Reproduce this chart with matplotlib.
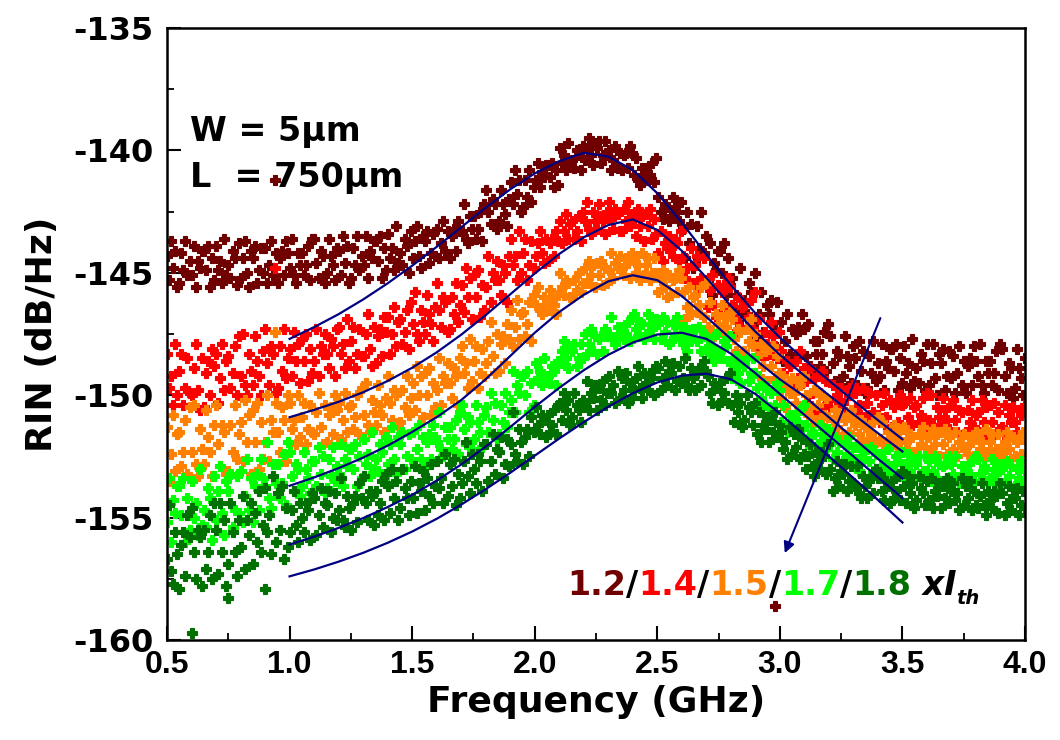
import numpy as np
import matplotlib
matplotlib.use("Agg")
import matplotlib.pyplot as plt
from matplotlib.ticker import MultipleLocator
from matplotlib.transforms import offset_copy

plt.rcParams['axes.unicode_minus'] = False

# Bias currents (multiples of threshold) and their colours
currents = ["1.2", "1.4", "1.5", "1.7", "1.8"]
colors = ["#700000", "#ff0000", "#ff8000", "#00ff00", "#007000"]
fit_color = "#000080"

# Measured RIN traces (dB/Hz), equally spaced sweep from 0.5 to 4.0 GHz
# (one line per 0.1 GHz span)
rin_12 = [
    -144.3, -145.3, -143.7, -144.8, -144.1, -145.6, -145.4, -144.2, -144.9, -143.7, -145.1, -144.5,
    -145.1, -143.9, -145.6, -144.5, -144.8, -144.1, -144.1, -144.9, -143.9, -145.6, -144.4, -145.3,
    -143.9, -144.9, -144.5, -145.4, -143.6, -145.1, -144.7, -145.2, -144.1, -144.4, -145.5, -143.8,
    -145.2, -144.4, -143.7, -145.0, -145.6, -144.1, -144.4, -143.9, -145.4, -144.9, -144.0, -145.0,
    -144.0, -145.4, -144.7, -143.7, -145.1, -144.2, -145.4, -144.4, -144.1, -145.1, -143.7, -144.2,
    -144.8, -143.6, -145.1, -145.4, -144.2, -144.7, -144.2, -145.1, -144.7, -143.9, -145.3, -143.6,
    -143.6, -144.6, -145.2, -144.1, -144.3, -145.4, -145.0, -143.6, -144.3, -144.7, -145.3, -144.0,
    -144.1, -145.1, -143.5, -144.6, -143.9, -145.4, -145.2, -144.0, -144.7, -143.5, -144.9, -144.3,
    -144.7, -143.5, -145.2, -144.1, -144.4, -143.7, -143.7, -144.5, -143.5, -145.2, -144.0, -144.9,
    -143.4, -144.4, -144.0, -144.9, -143.1, -144.6, -144.2, -144.7, -143.6, -143.9, -145.0, -143.3,
    -144.4, -143.7, -143.1, -144.3, -144.8, -143.5, -143.7, -143.3, -144.6, -144.2, -143.4, -144.3,
    -143.2, -144.4, -143.8, -142.9, -144.1, -143.3, -144.4, -143.5, -143.2, -144.1, -142.9, -143.3,
    -143.3, -142.2, -143.6, -143.8, -142.7, -143.2, -142.7, -143.6, -143.2, -142.5, -143.7, -142.2,
    -141.6, -142.5, -143.0, -142.0, -142.2, -143.2, -142.9, -141.6, -142.2, -142.6, -143.1, -142.0,
    -141.3, -142.2, -140.8, -141.8, -141.2, -142.5, -142.3, -141.2, -141.9, -140.8, -142.1, -141.5,
    -141.2, -140.5, -141.5, -140.9, -141.1, -140.6, -140.6, -141.1, -140.5, -141.5, -140.8, -141.4,
    -139.9, -140.5, -140.2, -140.8, -139.7, -140.6, -140.4, -140.7, -140.0, -140.2, -140.8, -139.8,
    -140.4, -139.9, -139.5, -140.2, -140.6, -139.7, -139.9, -139.6, -140.5, -140.2, -139.6, -140.2,
    -140.0, -140.8, -140.4, -139.8, -140.7, -140.1, -140.8, -140.2, -140.1, -140.7, -139.8, -140.1,
    -141.0, -140.3, -141.2, -141.4, -140.7, -141.0, -140.7, -141.2, -141.0, -140.5, -141.3, -140.3,
    -141.9, -142.5, -142.8, -142.2, -142.3, -142.9, -142.7, -141.9, -142.3, -142.5, -142.9, -142.1,
    -143.2, -144.4, -142.5, -143.8, -143.0, -144.8, -144.6, -143.1, -144.0, -142.5, -144.2, -143.5,
    -145.3, -143.8, -145.9, -144.6, -144.9, -144.1, -144.1, -145.0, -143.8, -145.9, -144.4, -145.5,
    -145.2, -146.4, -145.9, -147.0, -144.8, -146.6, -146.1, -146.7, -145.4, -145.8, -147.1, -145.0,
    -147.6, -146.7, -145.8, -147.4, -148.1, -146.3, -146.7, -146.1, -147.9, -147.3, -146.2, -147.4,
    -147.0, -148.6, -147.8, -146.7, -148.3, -147.3, -148.6, -147.5, -147.2, -148.3, -146.7, -147.3,
    -148.4, -147.1, -148.8, -149.1, -147.8, -148.3, -147.8, -148.8, -148.3, -147.4, -149.0, -147.1,
    -147.6, -148.7, -149.4, -148.2, -148.4, -149.6, -149.2, -147.6, -148.4, -148.8, -149.5, -148.0,
    -148.5, -149.6, -147.8, -149.0, -148.2, -149.9, -149.7, -148.4, -149.1, -147.8, -149.4, -148.7,
    -149.2, -147.9, -149.8, -148.6, -148.9, -148.1, -148.1, -149.0, -147.9, -149.8, -148.5, -149.5,
    -148.0, -149.1, -148.7, -149.7, -147.7, -149.4, -148.9, -149.5, -148.3, -148.6, -149.8, -147.9,
    -149.6, -148.7, -147.9, -149.3, -150.0, -148.3, -148.7, -148.1, -149.8, -149.2, -148.2, -149.3,
    -148.4, -149.9, -149.1, -148.0, -149.6, -148.6, -149.9, -148.8, -148.5, -149.6, -148.0, -148.6,
    -149.2, -147.9, -149.6, -149.9, -148.6, -149.1, -148.6, -149.6, -149.1, -148.2, -149.8, -147.9,
    -148.1, -149.2, -149.9, -148.7, -148.9, -150.1, -149.7, -148.1, -148.9, -149.3, -150.0, -148.5,
]
rin_14 = [
    -148.3, -149.7, -149.2, -150.4, -147.9, -150.0, -149.0, -148.3, -150.4, -149.7, -148.5, -149.9,
    -150.0, -148.9, -147.9, -149.8, -150.6, -148.5, -150.5, -149.1, -148.6, -150.0, -148.1, -148.8,
    -148.3, -150.3, -149.3, -147.9, -149.8, -148.6, -148.4, -149.7, -149.1, -148.0, -150.0, -147.6,
    -149.2, -147.5, -149.6, -150.0, -148.3, -149.0, -149.6, -147.6, -148.6, -149.2, -150.0, -148.2,
    -147.3, -148.7, -149.6, -148.0, -148.3, -149.9, -149.7, -148.0, -149.0, -147.3, -149.3, -148.5,
    -148.1, -149.2, -147.4, -148.6, -147.9, -149.5, -147.7, -148.6, -147.5, -149.4, -148.1, -149.1,
    -148.6, -147.3, -149.2, -148.0, -148.3, -147.5, -148.3, -148.9, -147.7, -148.0, -149.2, -147.3,
    -147.2, -148.3, -147.9, -148.9, -146.9, -148.6, -147.8, -147.2, -148.9, -148.3, -147.3, -148.4,
    -148.4, -147.5, -146.7, -148.1, -148.8, -147.2, -148.7, -147.6, -147.3, -148.4, -146.8, -147.4,
    -146.8, -148.3, -147.5, -146.4, -148.0, -147.0, -146.9, -147.9, -147.4, -146.5, -148.1, -146.2,
    -147.1, -145.8, -147.5, -147.8, -146.5, -147.0, -147.5, -145.9, -146.7, -147.1, -147.8, -146.4,
    -145.4, -146.5, -147.2, -146.0, -146.2, -147.4, -147.3, -146.0, -146.7, -145.4, -147.0, -146.3,
    -145.5, -146.6, -144.8, -146.0, -145.2, -146.9, -145.1, -146.0, -144.9, -146.8, -145.5, -146.5,
    -145.6, -144.3, -146.2, -145.0, -145.3, -144.5, -145.3, -145.9, -144.7, -145.0, -146.2, -144.3,
    -143.6, -144.7, -144.3, -145.3, -143.3, -145.0, -144.2, -143.6, -145.3, -144.7, -143.7, -144.8,
    -144.3, -143.8, -143.3, -144.2, -144.6, -143.6, -144.5, -143.8, -143.6, -144.3, -143.3, -143.7,
    -142.9, -143.8, -143.3, -142.6, -143.6, -143.0, -142.9, -143.6, -143.3, -142.7, -143.7, -142.5,
    -142.9, -142.1, -143.2, -143.4, -142.5, -142.9, -143.2, -142.2, -142.7, -142.9, -143.4, -142.5,
    -142.1, -142.8, -143.2, -142.4, -142.6, -143.3, -143.3, -142.4, -142.9, -142.1, -143.1, -142.6,
    -142.8, -143.5, -142.4, -143.1, -142.7, -143.7, -142.6, -143.1, -142.4, -143.6, -142.8, -143.4,
    -144.2, -143.3, -144.5, -143.8, -144.0, -143.5, -144.0, -144.3, -143.6, -143.8, -144.5, -143.3,
    -144.3, -145.2, -144.8, -145.6, -144.0, -145.4, -144.7, -144.3, -145.6, -145.2, -144.4, -145.3,
    -146.4, -145.7, -145.1, -146.3, -146.8, -145.5, -146.7, -145.8, -145.5, -146.4, -145.2, -145.6,
    -146.3, -147.5, -146.9, -146.0, -147.2, -146.4, -146.3, -147.2, -146.8, -146.1, -147.3, -145.8,
    -148.0, -146.9, -148.3, -148.5, -147.4, -147.9, -148.3, -147.0, -147.6, -148.0, -148.5, -147.4,
    -148.2, -149.1, -149.6, -148.6, -148.8, -149.8, -149.7, -148.6, -149.3, -148.2, -149.5, -148.9,
    -149.4, -150.3, -148.9, -149.9, -149.3, -150.6, -149.2, -149.9, -149.0, -150.5, -149.4, -150.2,
    -150.5, -149.6, -150.9, -150.0, -150.3, -149.7, -150.3, -150.7, -149.8, -150.0, -150.9, -149.6,
    -149.9, -150.7, -150.4, -151.1, -149.7, -150.9, -150.3, -149.9, -151.1, -150.7, -150.0, -150.8,
    -151.1, -150.4, -149.9, -150.9, -151.4, -150.2, -151.3, -150.5, -150.3, -151.1, -150.0, -150.4,
    -150.3, -151.4, -150.9, -150.1, -151.2, -150.5, -150.4, -151.1, -150.8, -150.1, -151.3, -149.9,
    -151.0, -150.0, -151.2, -151.4, -150.5, -150.9, -151.2, -150.1, -150.6, -151.0, -151.4, -150.4,
    -150.2, -151.0, -151.5, -150.6, -150.7, -151.6, -151.5, -150.6, -151.1, -150.2, -151.3, -150.8,
    -150.7, -151.5, -150.2, -151.1, -150.5, -151.7, -150.4, -151.1, -150.3, -151.6, -150.7, -151.4,
    -151.3, -150.4, -151.7, -150.8, -151.1, -150.5, -151.1, -151.5, -150.6, -150.8, -151.7, -150.4,
]
rin_15 = [
    -151.3, -153.5, -152.4, -150.8, -153.1, -151.6, -151.5, -152.9, -152.3, -151.0, -153.2, -150.5,
    -152.3, -150.4, -152.8, -153.3, -151.4, -152.2, -152.8, -150.6, -151.7, -152.3, -153.3, -151.2,
    -150.4, -152.0, -152.9, -151.2, -151.5, -153.2, -153.1, -151.2, -152.3, -150.4, -152.6, -151.6,
    -151.1, -152.7, -150.2, -151.9, -150.8, -153.2, -150.6, -151.9, -150.3, -153.0, -151.1, -152.6,
    -151.9, -150.0, -152.7, -151.0, -151.5, -150.3, -151.5, -152.3, -150.5, -151.0, -152.7, -150.0,
    -150.3, -151.4, -151.0, -152.0, -150.0, -151.7, -150.9, -150.3, -152.0, -151.4, -150.4, -151.5,
    -151.6, -150.7, -149.9, -151.3, -152.0, -150.4, -151.9, -150.8, -150.5, -151.6, -150.0, -150.6,
    -150.3, -151.8, -151.0, -149.9, -151.5, -150.5, -150.4, -151.4, -150.9, -150.0, -151.6, -149.7,
    -150.8, -149.5, -151.2, -151.5, -150.2, -150.7, -151.2, -149.6, -150.4, -150.8, -151.5, -150.1,
    -149.2, -150.3, -151.0, -149.8, -150.0, -151.2, -151.1, -149.8, -150.5, -149.2, -150.8, -150.1,
    -149.5, -150.6, -148.8, -150.0, -149.2, -150.9, -149.1, -150.0, -148.9, -150.8, -149.5, -150.5,
    -149.8, -148.5, -150.4, -149.2, -149.5, -148.7, -149.5, -150.1, -148.9, -149.2, -150.4, -148.5,
    -148.0, -149.1, -148.7, -149.7, -147.7, -149.4, -148.6, -148.0, -149.7, -149.1, -148.1, -149.2,
    -148.7, -147.8, -147.0, -148.4, -149.1, -147.5, -149.0, -147.9, -147.6, -148.7, -147.1, -147.7,
    -146.5, -148.0, -147.2, -146.1, -147.7, -146.7, -146.6, -147.6, -147.1, -146.2, -147.8, -145.9,
    -146.3, -145.6, -146.5, -146.7, -146.0, -146.3, -146.5, -145.7, -146.1, -146.3, -146.7, -145.9,
    -145.0, -145.6, -145.9, -145.3, -145.4, -146.0, -146.0, -145.3, -145.7, -145.0, -145.8, -145.4,
    -144.8, -145.4, -144.5, -145.1, -144.7, -145.6, -144.6, -145.1, -144.5, -145.5, -144.8, -145.4,
    -144.9, -144.2, -145.2, -144.6, -144.8, -144.3, -144.8, -145.1, -144.4, -144.6, -145.2, -144.2,
    -144.4, -145.0, -144.7, -145.3, -144.2, -145.1, -144.7, -144.4, -145.3, -145.0, -144.4, -145.0,
    -145.8, -145.3, -144.9, -145.6, -146.0, -145.1, -145.9, -145.3, -145.2, -145.8, -144.9, -145.2,
    -145.8, -146.9, -146.4, -145.6, -146.7, -146.0, -145.9, -146.6, -146.3, -145.6, -146.8, -145.4,
    -147.2, -146.2, -147.4, -147.6, -146.7, -147.1, -147.4, -146.3, -146.8, -147.2, -147.6, -146.6,
    -146.9, -147.7, -148.2, -147.3, -147.4, -148.3, -148.2, -147.3, -147.8, -146.9, -148.0, -147.5,
    -148.4, -149.2, -147.9, -148.8, -148.2, -149.4, -148.1, -148.8, -148.0, -149.3, -148.4, -149.1,
    -150.1, -149.2, -150.5, -149.6, -149.9, -149.3, -149.9, -150.3, -149.4, -149.6, -150.5, -149.2,
    -150.0, -150.8, -150.5, -151.2, -149.8, -151.0, -150.4, -150.0, -151.2, -150.8, -150.1, -150.9,
    -151.5, -151.0, -150.6, -151.3, -151.7, -150.8, -151.6, -151.0, -150.9, -151.5, -150.6, -150.9,
    -151.2, -152.0, -151.6, -151.0, -151.9, -151.3, -151.3, -151.8, -151.6, -151.1, -151.9, -150.9,
    -151.8, -151.1, -152.0, -152.2, -151.5, -151.8, -152.0, -151.2, -151.6, -151.8, -152.2, -151.4,
    -151.3, -151.9, -152.2, -151.6, -151.7, -152.3, -152.3, -151.6, -152.0, -151.3, -152.1, -151.7,
    -151.7, -152.3, -151.4, -152.0, -151.6, -152.5, -151.5, -152.0, -151.4, -152.4, -151.7, -152.3,
    -152.2, -151.5, -152.5, -151.9, -152.1, -151.6, -152.1, -152.4, -151.7, -151.9, -152.5, -151.5,
    -151.6, -152.2, -151.9, -152.5, -151.4, -152.3, -151.9, -151.6, -152.5, -152.2, -151.6, -152.2,
    -152.4, -151.9, -151.5, -152.2, -152.6, -151.7, -152.5, -151.9, -151.8, -152.4, -151.5, -151.8,
]
rin_17 = [
    -155.2, -153.4, -156.0, -154.3, -154.8, -153.7, -153.7, -154.9, -153.4, -156.0, -154.2, -155.5,
    -153.5, -155.0, -154.4, -155.7, -153.0, -155.3, -154.7, -155.4, -153.8, -154.2, -155.9, -153.3,
    -155.1, -153.9, -152.9, -154.8, -155.7, -153.5, -153.9, -153.2, -155.4, -154.7, -153.3, -154.8,
    -153.1, -155.2, -154.1, -152.6, -154.7, -153.4, -155.2, -153.7, -153.2, -154.7, -152.6, -153.4,
    -153.7, -151.9, -154.2, -154.6, -152.8, -153.6, -152.8, -154.2, -153.6, -152.4, -154.5, -151.9,
    -152.3, -153.3, -153.9, -152.8, -153.0, -154.1, -153.7, -152.3, -153.0, -153.4, -154.0, -152.7,
    -152.7, -153.7, -152.1, -153.2, -152.5, -154.0, -153.8, -152.6, -153.3, -152.1, -153.5, -152.9,
    -153.2, -152.0, -153.7, -152.6, -152.9, -152.2, -152.2, -153.0, -152.0, -153.7, -152.5, -153.4,
    -151.8, -152.8, -152.4, -153.3, -151.5, -153.0, -152.6, -153.1, -152.0, -152.3, -153.4, -151.7,
    -152.8, -152.0, -151.3, -152.6, -153.2, -151.7, -152.0, -151.5, -153.0, -152.5, -151.6, -152.6,
    -151.5, -152.9, -152.2, -151.2, -152.6, -151.7, -152.9, -151.9, -151.6, -152.6, -151.2, -151.7,
    -151.9, -150.7, -152.2, -152.5, -151.3, -151.8, -151.3, -152.2, -151.8, -151.0, -152.4, -150.7,
    -150.4, -151.4, -152.0, -150.9, -151.1, -152.2, -151.8, -150.4, -151.1, -151.5, -152.1, -150.8,
    -150.5, -151.5, -149.9, -151.0, -150.3, -151.8, -151.6, -150.4, -151.1, -149.9, -151.3, -150.7,
    -150.2, -149.0, -150.7, -149.6, -149.9, -149.2, -149.2, -150.0, -149.0, -150.7, -149.5, -150.4,
    -148.7, -149.3, -149.0, -149.6, -148.5, -149.4, -149.2, -149.5, -148.8, -149.0, -149.6, -148.6,
    -148.7, -148.2, -147.8, -148.5, -148.9, -148.0, -148.2, -147.9, -148.8, -148.5, -147.9, -148.5,
    -147.5, -148.3, -147.9, -147.3, -148.2, -147.6, -148.3, -147.7, -147.6, -148.2, -147.3, -147.6,
    -147.5, -146.8, -147.7, -147.9, -147.2, -147.5, -147.2, -147.7, -147.5, -147.0, -147.8, -146.8,
    -146.7, -147.3, -147.6, -147.0, -147.1, -147.7, -147.5, -146.7, -147.1, -147.3, -147.7, -146.9,
    -147.1, -147.7, -146.8, -147.4, -147.0, -147.9, -147.8, -147.1, -147.5, -146.8, -147.6, -147.2,
    -147.9, -147.2, -148.2, -147.6, -147.8, -147.3, -147.3, -147.8, -147.2, -148.2, -147.5, -148.1,
    -147.7, -148.3, -148.0, -148.6, -147.5, -148.4, -148.2, -148.5, -147.8, -148.0, -148.6, -147.6,
    -149.3, -148.8, -148.4, -149.1, -149.5, -148.6, -148.8, -148.5, -149.4, -149.1, -148.5, -149.1,
    -149.7, -150.5, -150.1, -149.5, -150.4, -149.8, -150.5, -149.9, -149.8, -150.4, -149.5, -149.8,
    -151.1, -150.4, -151.3, -151.5, -150.8, -151.1, -150.8, -151.3, -151.1, -150.6, -151.4, -150.4,
    -151.2, -151.8, -152.1, -151.5, -151.6, -152.2, -152.0, -151.2, -151.6, -151.8, -152.2, -151.4,
    -152.0, -152.6, -151.7, -152.3, -151.9, -152.8, -152.7, -152.0, -152.4, -151.7, -152.5, -152.1,
    -152.8, -152.1, -153.1, -152.5, -152.7, -152.2, -152.2, -152.7, -152.1, -153.1, -152.4, -153.0,
    -152.4, -153.0, -152.7, -153.3, -152.2, -153.1, -152.9, -153.2, -152.5, -152.7, -153.3, -152.3,
    -153.3, -152.8, -152.4, -153.1, -153.5, -152.6, -152.8, -152.5, -153.4, -153.1, -152.5, -153.1,
    -152.7, -153.5, -153.1, -152.5, -153.4, -152.8, -153.5, -152.9, -152.8, -153.4, -152.5, -152.8,
    -153.2, -152.5, -153.4, -153.6, -152.9, -153.2, -152.9, -153.4, -153.2, -152.7, -153.5, -152.5,
    -152.6, -153.2, -153.5, -152.9, -153.0, -153.6, -153.4, -152.6, -153.0, -153.2, -153.6, -152.8,
    -153.0, -153.6, -152.7, -153.3, -152.9, -153.8, -153.7, -153.0, -153.4, -152.7, -153.5, -153.1,
]
rin_18 = [
    -156.7, -154.5, -157.2, -157.7, -155.6, -156.5, -157.9, -156.1, -155.6, -157.4, -154.9, -155.8,
    -154.6, -156.4, -157.5, -155.5, -155.8, -157.8, -155.5, -157.1, -156.4, -154.9, -157.5, -154.4,
    -155.5, -157.3, -154.4, -156.4, -155.1, -157.8, -156.9, -154.4, -155.6, -156.4, -157.4, -155.1,
    -156.2, -154.1, -157.1, -155.1, -155.7, -154.4, -156.9, -154.8, -156.0, -153.9, -156.4, -155.3,
    -153.8, -155.6, -154.9, -156.5, -153.3, -156.0, -154.0, -155.5, -153.7, -156.7, -154.6, -156.2,
    -155.6, -154.7, -153.9, -155.3, -156.0, -154.4, -155.0, -155.6, -154.4, -154.7, -155.9, -154.0,
    -154.2, -155.7, -154.9, -153.8, -155.4, -154.4, -154.5, -153.9, -155.6, -155.0, -154.0, -155.1,
    -154.7, -153.4, -155.1, -155.4, -154.1, -154.6, -155.5, -154.4, -154.1, -155.2, -153.6, -154.2,
    -153.3, -154.4, -155.1, -153.9, -154.1, -155.3, -153.9, -154.9, -154.4, -153.5, -155.1, -153.2,
    -153.7, -154.8, -153.0, -154.2, -153.5, -155.1, -154.6, -153.0, -153.8, -154.2, -154.9, -153.5,
    -154.2, -152.9, -154.8, -153.6, -153.9, -153.1, -154.7, -153.4, -154.1, -152.8, -154.4, -153.7,
    -152.7, -153.8, -153.4, -154.4, -152.4, -154.1, -152.8, -153.7, -152.6, -154.5, -153.2, -154.2,
    -153.6, -152.7, -151.9, -153.3, -154.0, -152.4, -153.0, -153.6, -152.4, -152.7, -153.9, -152.0,
    -152.0, -153.5, -152.7, -151.6, -153.2, -152.2, -152.3, -151.7, -153.4, -152.8, -151.8, -152.9,
    -152.0, -150.7, -152.4, -152.7, -151.4, -151.9, -152.8, -151.7, -151.4, -152.5, -150.9, -151.5,
    -150.5, -151.2, -151.6, -150.8, -151.0, -151.7, -150.8, -151.5, -151.2, -150.6, -151.6, -150.4,
    -150.3, -151.0, -149.9, -150.6, -150.2, -151.2, -150.9, -149.9, -150.4, -150.6, -151.1, -150.2,
    -150.3, -149.4, -150.6, -149.9, -150.1, -149.6, -150.6, -149.7, -150.2, -149.4, -150.4, -149.9,
    -149.2, -149.9, -149.6, -150.3, -149.0, -150.1, -149.3, -149.8, -149.1, -150.3, -149.5, -150.1,
    -149.8, -149.3, -148.8, -149.7, -150.1, -149.1, -149.5, -149.8, -149.1, -149.3, -150.0, -148.8,
    -148.9, -149.8, -149.3, -148.6, -149.6, -149.0, -149.1, -148.7, -149.8, -149.4, -148.8, -149.5,
    -149.3, -148.5, -149.6, -149.8, -148.9, -149.3, -149.8, -149.1, -148.9, -149.6, -148.6, -149.0,
    -149.2, -149.9, -150.3, -149.5, -149.7, -150.4, -149.5, -150.2, -149.9, -149.3, -150.3, -149.1,
    -150.4, -151.1, -150.0, -150.7, -150.3, -151.3, -151.0, -150.0, -150.5, -150.7, -151.2, -150.3,
    -151.6, -150.7, -151.9, -151.2, -151.4, -150.9, -151.9, -151.0, -151.5, -150.7, -151.7, -151.2,
    -151.5, -152.2, -151.9, -152.6, -151.3, -152.4, -151.6, -152.1, -151.4, -152.6, -151.8, -152.4,
    -153.0, -152.5, -152.0, -152.9, -153.3, -152.3, -152.7, -153.0, -152.3, -152.5, -153.2, -152.0,
    -153.0, -153.9, -153.4, -152.7, -153.7, -153.1, -153.2, -152.8, -153.9, -153.5, -152.9, -153.6,
    -153.7, -152.9, -154.0, -154.2, -153.3, -153.7, -154.2, -153.5, -153.3, -154.0, -153.0, -153.4,
    -153.2, -153.9, -154.3, -153.5, -153.7, -154.4, -153.5, -154.2, -153.9, -153.3, -154.3, -153.1,
    -153.7, -154.4, -153.3, -154.0, -153.6, -154.6, -154.3, -153.3, -153.8, -154.0, -154.5, -153.5,
    -154.3, -153.4, -154.6, -153.9, -154.1, -153.6, -154.6, -153.7, -154.2, -153.4, -154.4, -153.9,
    -153.6, -154.3, -154.0, -154.7, -153.4, -154.5, -153.7, -154.2, -153.5, -154.7, -153.9, -154.5,
    -154.6, -154.1, -153.6, -154.5, -154.9, -153.9, -154.3, -154.6, -153.9, -154.1, -154.8, -153.6,
    -154.0, -154.9, -154.4, -153.7, -154.7, -154.1, -154.2, -153.8, -154.9, -154.5, -153.9, -154.6,
]

# Isolated readings outside the main clouds: frequency, RIN, trace index
stray_freq = [0.94, 2.98, 0.94, 0.94, 0.60, 0.75, 0.90]
stray_rin = [-141.2, -158.6, -144.8, -147.4, -159.7, -158.3, -157.9]
stray_trace = [0, 0, 1, 2, 4, 4, 4]

# Fitted RIN curves (dB/Hz) between 1.0 and 3.5 GHz
fit_freq = [1.0, 1.1, 1.2, 1.3, 1.4, 1.5, 1.6, 1.7, 1.8, 1.9, 2.0, 2.1, 2.2,
            2.3, 2.4, 2.5, 2.6, 2.7, 2.8, 2.9, 3.0, 3.1, 3.2, 3.3, 3.4, 3.5]
fit_12 = [-147.70, -147.22, -146.69, -146.09, -145.43, -144.71, -143.94, -143.14, -142.34,
          -141.59, -140.94, -140.44, -140.10, -140.25, -140.80, -141.75, -142.95, -144.25,
          -145.50, -146.65, -147.65, -148.55, -149.40, -150.22, -151.02, -151.80]
fit_14 = [-150.90, -150.60, -150.27, -149.88, -149.42, -148.88, -148.25, -147.53, -146.73,
          -145.88, -145.03, -144.23, -143.55, -143.05, -142.82, -143.25, -144.10, -145.20,
          -146.35, -147.40, -148.35, -149.20, -150.00, -150.78, -151.55, -152.30]
fit_15 = [-153.70, -153.36, -152.98, -152.55, -152.06, -151.50, -150.90, -150.20, -149.35,
          -148.40, -147.45, -146.60, -145.90, -145.35, -145.10, -145.30, -145.95, -146.80,
          -147.70, -148.55, -149.35, -150.05, -150.90, -151.75, -152.60, -153.40]
fit_17 = [-156.10, -155.78, -155.42, -155.02, -154.57, -154.07, -153.49, -152.83, -152.10,
          -151.30, -150.48, -149.70, -148.98, -148.35, -147.85, -147.52, -147.45, -147.70,
          -148.30, -149.10, -149.95, -150.80, -151.65, -152.50, -153.35, -154.20]
fit_18 = [-157.40, -157.12, -156.80, -156.44, -156.03, -155.57, -155.05, -154.47, -153.84,
          -153.17, -152.47, -151.77, -151.10, -150.47, -149.92, -149.48, -149.20, -149.12,
          -149.35, -149.95, -150.75, -151.62, -152.50, -153.38, -154.28, -155.20]

x_ticks = [0.5, 1.0, 1.5, 2.0, 2.5, 3.0, 3.5, 4.0]
x_tick_labels = ["0.5", "1.0", "1.5", "2.0", "2.5", "3.0", "3.5", "4.0"]
y_ticks = [-160, -155, -150, -145, -140, -135]
y_tick_labels = ["-160", "-155", "-150", "-145", "-140", "-135"]

measured = [rin_12, rin_14, rin_15, rin_17, rin_18]
fits = [fit_12, fit_14, fit_15, fit_17, fit_18]

fig = plt.figure(figsize=(10.6, 7.4), dpi=100)
ax = fig.add_axes([167 / 1060, 1 - 640 / 740, 858 / 1060, 612 / 740])

for vals, c in zip(measured, colors):
    freq = np.linspace(0.5, 4.0, len(vals))
    ax.plot(freq, vals, ls="none", marker="P", ms=6.5, mfc=c, mec=c, mew=0.8, zorder=2)

for f, r, i in zip(stray_freq, stray_rin, stray_trace):
    ax.plot([f], [r], ls="none", marker="P", ms=6.5, mfc=colors[i], mec=colors[i],
            mew=0.8, zorder=2)

for fit in fits:
    ax.plot(fit_freq, fit, color=fit_color, lw=1.6, zorder=4, solid_joinstyle="round")

# Arrow showing increasing bias current
ax.annotate("", xy=(3.02, -156.45), xytext=(3.41, -146.85),
            arrowprops=dict(arrowstyle="-|>", color=fit_color, lw=1.5,
                            mutation_scale=16, shrinkA=0, shrinkB=0), zorder=5)

ax.set_xlim(0.5, 4.0)
ax.set_ylim(-160, -135)
ax.set_xticks(x_ticks, labels=x_tick_labels)
ax.set_yticks(y_ticks, labels=y_tick_labels)
ax.xaxis.set_minor_locator(MultipleLocator(0.25))
ax.yaxis.set_minor_locator(MultipleLocator(2.5))
ax.tick_params(which="both", direction="in", top=False, right=False)
ax.tick_params(which="major", length=10, width=1.5)
ax.tick_params(which="minor", length=5, width=1.3)
ax.tick_params(axis="x", pad=7)
ax.tick_params(axis="y", pad=10)
for lab in ax.get_xticklabels():
    lab.set_fontfamily("Liberation Sans")
    lab.set_fontweight("bold")
    lab.set_fontsize(23)
for lab in ax.get_yticklabels():
    lab.set_fontfamily("DejaVu Sans")
    lab.set_fontweight("bold")
    lab.set_fontsize(23)
for sp in ax.spines.values():
    sp.set_linewidth(1.8)

ax.set_xlabel("Frequency (GHz)", fontfamily="DejaVu Sans", fontweight="bold",
              fontsize=26, labelpad=4)
ax.set_ylabel("RIN (dB/Hz)", fontfamily="DejaVu Sans", fontweight="bold",
              fontsize=26, labelpad=10)

ax.text(0.594, -139.6, "W = 5\u03bcm", fontfamily="DejaVu Sans", fontweight="bold",
        fontsize=24, va="baseline", ha="left")
ax.text(0.594, -141.5, "L  = 750\u03bcm", fontfamily="DejaVu Sans", fontweight="bold",
        fontsize=24, va="baseline", ha="left")

# Coloured current legend: 1.2/1.4/1.5/1.7/1.8 xI_th
pieces = []
for k, (cur, c) in enumerate(zip(currents, colors)):
    pieces.append((cur, c, "normal", 24, 0))
    if k < len(currents) - 1:
        pieces.append(("/", "black", "normal", 24, 0))
pieces.append((" xI", "black", "italic", 24, 0))
pieces.append(("th", "black", "italic", 14, -9))

fig.canvas.draw()
renderer = fig.canvas.get_renderer()
x_off = 0.0
for s, c, style, size, dy in pieces:
    tr = offset_copy(ax.transData, fig=fig, x=x_off, y=dy, units="dots")
    t = ax.text(2.133, -158.15, s, color=c, fontfamily="DejaVu Sans", fontweight="bold",
                fontstyle=style, fontsize=size, va="baseline", ha="left",
                transform=tr, zorder=6)
    x_off += t.get_window_extent(renderer).width

fig.savefig("out.png", dpi=100)
